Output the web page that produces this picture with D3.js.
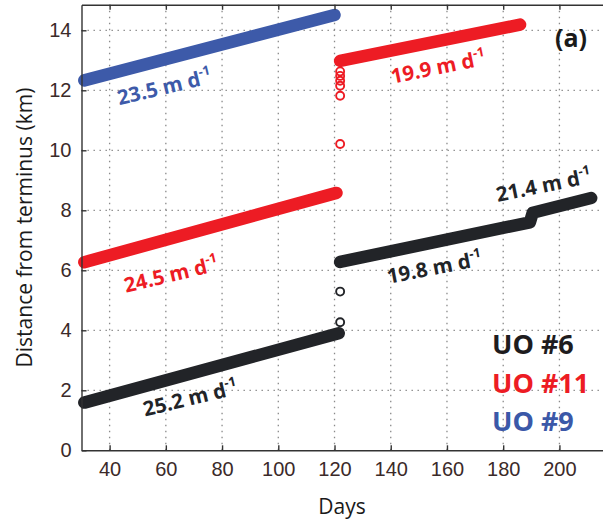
<!DOCTYPE html>
<html>
<head>
<meta charset="utf-8">
<script src="https://d3js.org/d3.v7.min.js"></script>
<style>
    body { margin: 0; background: #fff; }
    .grid line { stroke: #8a8a8a; stroke-width: 1.3; stroke-dasharray: 1.4,4.6; }
    .axis path, .axis line { stroke: #333; stroke-width: 1.4; }
    .axis text { font: 20px "Liberation Sans", Arial, sans-serif; fill: #3b2a29; }
    .title { font: 21px "Open Sans", sans-serif; fill: #1a1a1a; }
</style>
</head>
<body>
<svg id="chart" width="603" height="523"></svg>
<script>
// segments: [day, distance km]
var uo9 = [[31, 12.33], [120, 14.51]];
var uo11Before = [[31, 6.27], [120.7, 8.58]];
var uo11After = [[122, 12.98], [186, 14.19]];
var uo6Before = [[31, 1.59], [121.5, 3.9]];
var uo6After = [[122, 6.28], [189.5, 7.6], [190.5, 7.92], [211.3, 8.41]];

// hollow markers near day 122
var uo11Outliers = [[122, 10.21], [122, 11.82], [122, 12.15], [122, 12.32], [122, 12.48], [122, 12.63]];
var uo6Outliers = [[122, 4.27], [122, 5.29]];

// velocity labels: anchor day, km, angle, text, colour
var rateDays = [43.4, 45.8, 52.6, 140.6, 139.2, 178.1];
var rateKm = [11.5, 5.25, 1.13, 12.22, 5.55, 8.28];
var rateAngle = [-13.5, -13.5, -13.5, -11.5, -11, -11.5];
var rateText = ["23.5", "24.5", "25.2", "19.9", "19.8", "21.4"];
var rateSeries = ["UO #9", "UO #11", "UO #6", "UO #11", "UO #6", "UO #6"];

var legendNames = ["UO #6", "UO #11", "UO #9"];
var legendColors = ["#1e1c1e", "#ed1c24", "#3b58a8"];

var xTicks = [40, 60, 80, 100, 120, 140, 160, 180, 200];
var yTicks = [0, 2, 4, 6, 8, 10, 12, 14];

(function () {
    'use strict';

    var vm = {};
    vm.lineColor = {"UO #6": "#222428", "UO #11": "#ed1c24", "UO #9": "#3d5aa9"};

    drawGraph();

    function drawGraph() {
        createSvg();
        setUpAxis();
        createGrid();
        drawSeries();
        createAxis();
        drawLabels();
    }

    function createSvg() {
        vm.svg = d3.select("svg#chart");
        vm.left = 81.5;
        vm.right = 603;
        vm.top = 4.8;
        vm.bottom = 450.3;
        vm.g = vm.svg.append("g");
    }

    function setUpAxis() {
        vm.x = d3.scaleLinear().domain([30, 215.5]).range([vm.left, vm.right]);
        vm.y = d3.scaleLinear().domain([0, 14.85]).range([vm.bottom, vm.top]);
        vm.line = d3.line()
            .x(function (d) { return vm.x(d[0]); })
            .y(function (d) { return vm.y(d[1]); });
    }

    function createGrid() {
        var grid = vm.g.append("g").attr("class", "grid");
        grid.selectAll(".gx").data(xTicks).enter().append("line")
            .attr("x1", function (d) { return vm.x(d); })
            .attr("x2", function (d) { return vm.x(d); })
            .attr("y1", vm.top)
            .attr("y2", vm.bottom);
        grid.selectAll(".gy").data(yTicks.slice(1)).enter().append("line")
            .attr("y1", function (d) { return vm.y(d); })
            .attr("y2", function (d) { return vm.y(d); })
            .attr("x1", vm.left)
            .attr("x2", vm.right);
    }

    function drawSeries() {
        var segs = [
            {id: "UO #9", values: uo9},
            {id: "UO #11", values: uo11Before},
            {id: "UO #11", values: uo11After},
            {id: "UO #6", values: uo6Before},
            {id: "UO #6", values: uo6After}
        ];

        vm.g.selectAll(".seg")
            .data(segs)
            .enter().append("path")
            .attr("class", "seg")
            .attr("d", function (d) { return vm.line(d.values); })
            .attr("fill", "none")
            .attr("stroke", function (d) { return vm.lineColor[d.id]; })
            .attr("stroke-width", 12.5)
            .attr("stroke-linecap", "round")
            .attr("stroke-linejoin", "round");

        var outs = uo11Outliers.map(function (p) { return {id: "UO #11", p: p}; })
            .concat(uo6Outliers.map(function (p) { return {id: "UO #6", p: p}; }));

        vm.g.selectAll(".out")
            .data(outs)
            .enter().append("circle")
            .attr("class", "out")
            .attr("cx", function (d) { return vm.x(d.p[0]); })
            .attr("cy", function (d) { return vm.y(d.p[1]); })
            .attr("r", 4)
            .attr("fill", "none")
            .attr("stroke", function (d) { return vm.lineColor[d.id]; })
            .attr("stroke-width", 1.9);
    }

    function createAxis() {
        var h = vm.bottom - vm.top;

        vm.g.append("g")
            .attr("class", "axis axis--x")
            .attr("transform", "translate(0," + vm.bottom + ")")
            .call(d3.axisBottom(vm.x).tickValues(xTicks).tickSizeInner(-5).tickSizeOuter(0).tickPadding(12));

        vm.g.append("g")
            .attr("class", "axis axis--top")
            .attr("transform", "translate(0," + vm.top + ")")
            .call(d3.axisTop(vm.x).tickValues(xTicks).tickSizeInner(-5).tickSizeOuter(0).tickFormat(""));

        vm.g.append("g")
            .attr("class", "axis axis--y")
            .attr("transform", "translate(" + vm.left + ",0)")
            .call(d3.axisLeft(vm.y).tickValues(yTicks).tickSizeInner(-5).tickSizeOuter(0).tickPadding(10));

        vm.g.append("text")
            .attr("class", "title")
            .attr("x", 342)
            .attr("y", 514)
            .attr("text-anchor", "middle")
            .text("Days");

        vm.g.append("text")
            .attr("class", "title")
            .attr("transform", "translate(32," + (vm.top + h / 2) + ") rotate(-90)")
            .attr("text-anchor", "middle")
            .text("Distance from terminus (km)");
    }

    function drawLabels() {
        var labels = rateText.map(function (t, i) {
            return {t: t, day: rateDays[i], km: rateKm[i], a: rateAngle[i], id: rateSeries[i]};
        });

        var txt = vm.g.selectAll(".rate")
            .data(labels)
            .enter().append("text")
            .attr("class", "rate")
            .attr("transform", function (d) {
                return "translate(" + vm.x(d.day) + "," + vm.y(d.km) + ") rotate(" + d.a + ")";
            })
            .style("font", "700 20.5px 'Open Sans', sans-serif")
            .attr("fill", function (d) { return vm.lineColor[d.id]; });

        txt.append("tspan").text(function (d) { return d.t + " m d"; });
        txt.append("tspan")
            .attr("dy", -9)
            .style("font-size", "13px")
            .text("-1");

        vm.g.append("text")
            .attr("x", 555)
            .attr("y", 47)
            .style("font", "700 25px 'Open Sans', sans-serif")
            .attr("fill", "#1a1a1a")
            .text("(a)");

        vm.g.selectAll(".legend")
            .data(legendNames)
            .enter().append("text")
            .attr("class", "legend")
            .attr("x", 492)
            .attr("y", function (d, i) { return 354 + i * 38.5; })
            .style("font", "700 27px 'Open Sans', sans-serif")
            .attr("fill", function (d, i) { return legendColors[i]; })
            .text(function (d) { return d; });
    }

})();
</script>
</body>
</html>
